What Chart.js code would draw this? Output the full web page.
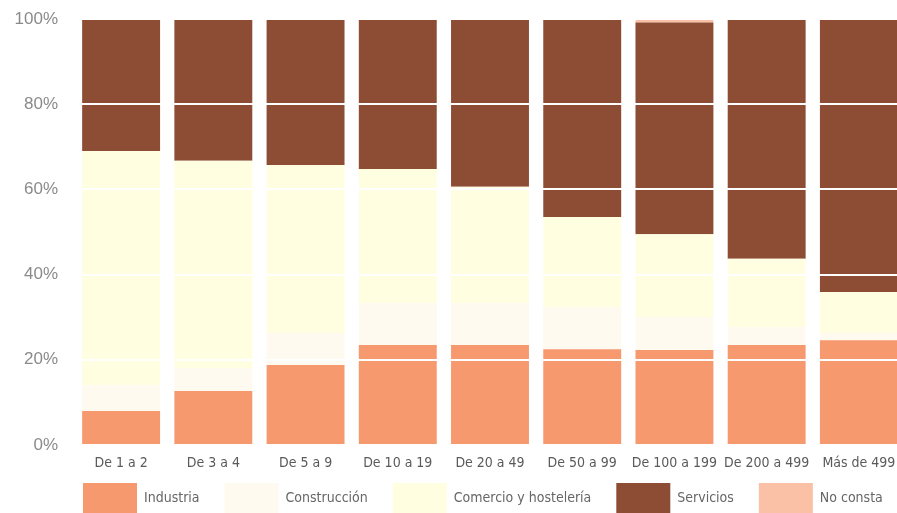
<!DOCTYPE html>
<html>
<head>
<meta charset="utf-8">
<script src="https://cdn.jsdelivr.net/npm/chart.js@4/dist/chart.umd.min.js"></script>
<style>
  html, body { margin: 0; padding: 0; background: #fff; overflow: hidden; }
  #wrap { width: 905px; height: 513px; }
</style>
</head>
<body>
<div id="wrap"><canvas id="chart"></canvas></div>
<script>
const categories = ['De 1 a 2', 'De 3 a 4', 'De 5 a 9', 'De 10 a 19', 'De 20 a 49', 'De 50 a 99', 'De 100 a 199', 'De 200 a 499', 'Más de 499'];

const industria    = [8.0, 12.7, 18.8, 23.5, 23.5, 22.5, 22.3, 23.5, 24.6];
const construccion = [6.0, 5.3, 7.5, 9.8, 9.8, 9.9, 7.7, 4.2, 1.7];
const comercio     = [55.0, 48.7, 39.4, 31.5, 27.3, 21.1, 19.5, 16.0, 9.6];
const servicios    = [31.0, 33.3, 34.3, 35.2, 39.4, 46.5, 49.7, 56.3, 64.1];
const noConsta     = [0, 0, 0, 0, 0, 0, 0.8, 0, 0];

const yTicks = [0, 20, 40, 60, 80, 100];

const narrow = "'Liberation Sans Narrow', 'DejaVu Sans Condensed', 'Liberation Sans', Arial, sans-serif";

// move the legend row to where the original sits (and keep it on one row)
const legendPlace = {
    id: 'legendPlace',
    afterLayout(chart) {
        chart.legend.left = 58;
        chart.legend.right = chart.width + 100;
        chart.legend.top -= 14;
    }
};

const ctx = document.getElementById('chart').getContext('2d');
new Chart(ctx, {
    type: 'bar',
    data: {
        labels: categories,
        datasets: [
            {label: 'Industria', data: industria, backgroundColor: '#f7996f'},
            {label: 'Construcción', data: construccion, backgroundColor: '#fefaf0'},
            {label: 'Comercio y hostelería', data: comercio, backgroundColor: '#fffee1'},
            {label: 'Servicios', data: servicios, backgroundColor: '#8d4d34'},
            {label: 'No consta', data: noConsta, backgroundColor: '#fbc1a6'}
        ]
    },
    options: {
        responsive: true,
        maintainAspectRatio: false,
        animation: false,
        layout: {padding: {left: 12, right: 0, top: 19, bottom: 0}},
        datasets: {bar: {categoryPercentage: 1, barPercentage: 0.845, borderWidth: 0}},
        scales: {
            x: {
                stacked: true,
                grid: {display: false, drawTicks: false},
                border: {display: false},
                afterFit: axis => { axis.paddingLeft = 0; axis.paddingRight = 0; axis.height = 27; },
                ticks: {
                    color: '#5a5a5a',
                    padding: 10,
                    maxRotation: 0,
                    autoSkip: false,
                    font: {family: narrow, size: 14}
                }
            },
            y: {
                stacked: true,
                min: 0,
                max: 100,
                afterBuildTicks: axis => { axis.ticks = yTicks.map(v => ({value: v})); },
                afterFit: axis => { axis.width = 63; axis.paddingTop = 0; axis.paddingBottom = 0; },
                grid: {color: '#ffffff', lineWidth: 2, z: 1, drawTicks: false},
                border: {display: false},
                ticks: {
                    color: '#8a8a8a',
                    padding: 17,
                    font: {family: "'Liberation Sans', Arial, sans-serif", size: 17},
                    callback: v => v + '%'
                }
            }
        },
        plugins: {
            legend: {
                position: 'bottom',
                align: 'start',
                maxHeight: 41,
                labels: {
                    boxWidth: 54,
                    boxHeight: 30,
                    padding: 25,
                    color: '#666',
                    font: {family: narrow, size: 14}
                }
            },
            tooltip: {enabled: false}
        }
    },
    plugins: [legendPlace]
});
</script>
</body>
</html>
